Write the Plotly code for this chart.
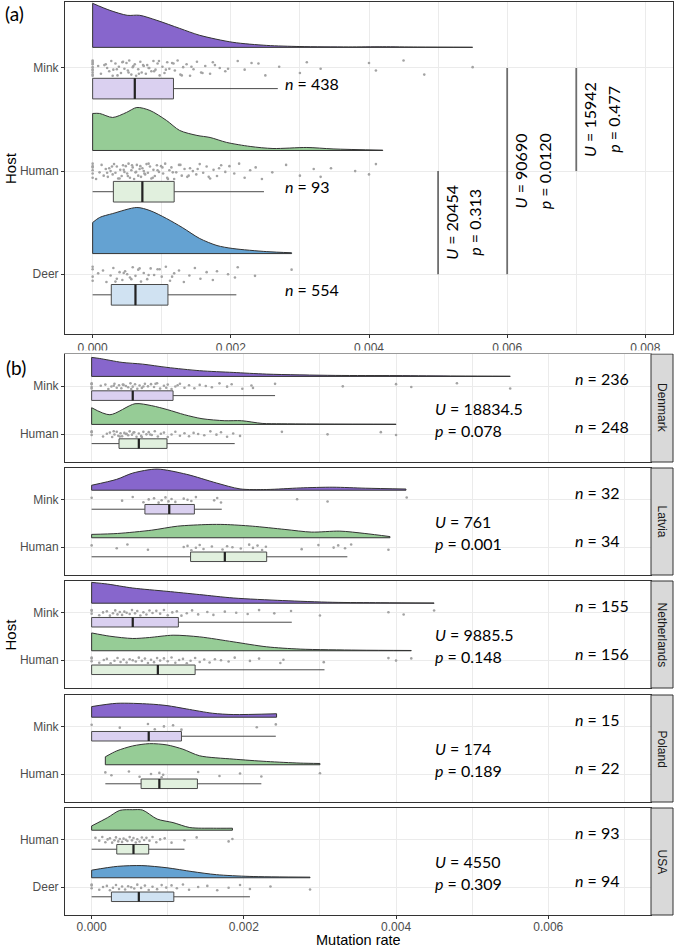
import plotly.graph_objects as go

# ------------------------------------------------------------------ data
# Panel (a): all hosts pooled
A_HOSTS = ["Mink", "Human", "Deer"]
A_N = ["438", "93", "554"]
A_Q1 = [0.0, 0.00030, 0.00027]
A_MED = [0.00061, 0.00072, 0.00062]
A_Q3 = [0.00117, 0.00118, 0.00109]
A_LO = [0.0, 0.0, 0.0]
A_HI = [0.00268, 0.00248, 0.00208]
A_XTICKS = [0.0, 0.002, 0.004, 0.006, 0.008]
A_XTICKTEXT = ["0.000", "0.002", "0.004", "0.006", "0.008"]
A_XMINOR = [0.001, 0.003, 0.005, 0.007]

# density outlines (x, relative height)
a_mink_dx = [0, 0.00025, 0.0005, 0.00068, 0.00093, 0.00126, 0.00155, 0.00203, 0.00252, 0.0030, 0.0037, 0.0042, 0.0047, 0.0055]
a_mink_dh = [0.427, 0.359, 0.311, 0.311, 0.262, 0.184, 0.117, 0.049, 0.019, 0.008, 0.004, 0.006, 0.003, 0.001]
a_human_dx = [0, 0.0001, 0.00029, 0.00049, 0.00064, 0.00083, 0.00107, 0.00126, 0.00151, 0.0017, 0.00194, 0.00228, 0.00261, 0.0031, 0.00348, 0.0042]
a_human_dh = [0.359, 0.359, 0.320, 0.369, 0.417, 0.388, 0.291, 0.194, 0.146, 0.126, 0.078, 0.039, 0.019, 0.029, 0.015, 0.003]
a_deer_dx = [0, 0.0001, 0.00029, 0.00064, 0.00083, 0.00107, 0.0013, 0.00155, 0.0018, 0.00203, 0.00252, 0.00288]
a_deer_dh = [0.301, 0.350, 0.388, 0.447, 0.417, 0.340, 0.252, 0.146, 0.078, 0.049, 0.019, 0.008]

# raw points (approximate)
a_mink_pts = [0, 0, 0, 0, 0, 0, 0, 0, 0, 0,
              0.00008, 0.00012, 0.00017, 0.00021, 0.00024, 0.00027, 0.0003, 0.00033, 0.00036, 0.00038,
              0.00041, 0.00043, 0.00046, 0.00049, 0.00051, 0.00053, 0.00056, 0.00058, 0.00061, 0.00063,
              0.00066, 0.00069, 0.00071, 0.00074, 0.00077, 0.00079, 0.00082, 0.00085, 0.00088, 0.00091,
              0.00094, 0.00097, 0.00101, 0.00104, 0.00108, 0.00111, 0.00115, 0.00119, 0.00123, 0.00127,
              0.00131, 0.00136, 0.00141, 0.00146, 0.00151, 0.00157, 0.00163, 0.0017, 0.00177, 0.00184,
              0.00192, 0.0021, 0.0022, 0.0024, 0.0025, 0.0027, 0.003, 0.0031, 0.0033, 0.004,
              0.0041, 0.0045, 0.0048, 0.0055,
              0.00019, 0.00029, 0.00035, 0.00044, 0.00052, 0.00059, 0.00067, 0.00073, 0.00081, 0.00089,
              0.00096, 0.00106, 0.00117, 0.00129, 0.00143, 0.00159, 0.00174, 0.00196, 0.0023]
a_human_pts = [0, 0, 0, 0, 0, 0,
               0.00005, 0.0001, 0.00013, 0.00016, 0.00019, 0.00022, 0.00024, 0.00026, 0.00029, 0.00031,
               0.00033, 0.00035, 0.00037, 0.0004, 0.00042, 0.00044, 0.00046, 0.00048, 0.0005, 0.00052,
               0.00054, 0.00056, 0.00058, 0.0006, 0.00062, 0.00064, 0.00066, 0.00068, 0.0007, 0.00072,
               0.00074, 0.00076, 0.00078, 0.0008, 0.00083, 0.00085, 0.00088, 0.0009, 0.00093, 0.00096,
               0.00099, 0.00102, 0.00105, 0.00108, 0.00111, 0.00114, 0.00118, 0.00121, 0.00125, 0.00129,
               0.00133, 0.00137, 0.00141, 0.00145, 0.0015, 0.00155, 0.0016, 0.00165, 0.0017, 0.00175,
               0.0018, 0.00186, 0.00192, 0.00198, 0.00205, 0.00212, 0.0022, 0.00228, 0.00236, 0.00245,
               0.0026, 0.0028, 0.003, 0.0032, 0.0033, 0.00345, 0.0038, 0.004, 0.0041,
               0.00021, 0.00028, 0.00039, 0.00045, 0.00051, 0.00057, 0.00063, 0.00069, 0.00075, 0.00081,
               0.00087, 0.00094, 0.00101, 0.00109, 0.00116, 0.00127, 0.00139, 0.00152, 0.00168, 0.00183]
a_deer_pts = [0, 0, 0, 0, 0.00008, 0.00015, 0.0002, 0.00026, 0.0003, 0.00035, 0.00039, 0.00043,
              0.00047, 0.0005, 0.00054, 0.00058, 0.00062, 0.00066, 0.0007, 0.00074, 0.00079, 0.00084,
              0.00089, 0.00094, 0.001, 0.00106, 0.00112, 0.00118, 0.00125, 0.00132, 0.0014, 0.00148,
              0.00156, 0.00165, 0.00174, 0.0018, 0.00196, 0.00206, 0.0021, 0.00235, 0.00288,
              0.00033, 0.00045, 0.00056, 0.00068, 0.00081, 0.00097, 0.00115]

# Mann-Whitney tests in panel (a)
A_TEST_X = [0.005, 0.006, 0.007]
A_TEST_FROM = ["Human", "Mink", "Mink"]
A_TEST_TO = ["Deer", "Deer", "Human"]
A_TEST_U = ["20454", "90690", "15942"]
A_TEST_P = ["0.313", "0.0120", "0.477"]

# Panel (b): by country
COUNTRIES = ["Denmark", "Latvia", "Netherlands", "Poland", "USA"]
B_HOSTS = [["Mink", "Human"], ["Mink", "Human"], ["Mink", "Human"], ["Mink", "Human"], ["Human", "Deer"]]
B_N = [["236", "248"], ["32", "34"], ["155", "156"], ["15", "22"], ["93", "94"]]
B_U = ["18834.5", "761", "9885.5", "174", "4550"]
B_P = ["0.078", "0.001", "0.148", "0.189", "0.309"]
B_Q1 = [[0.0, 0.00036], [0.0007, 0.0013], [0.0, 0.0], [0.0, 0.00065], [0.00033, 0.00026]]
B_MED = [[0.00054, 0.00062], [0.00102, 0.00175], [0.00054, 0.00087], [0.00075, 0.00089], [0.00055, 0.00062]]
B_Q3 = [[0.00107, 0.00099], [0.00135, 0.0023], [0.00114, 0.00136], [0.00118, 0.00139], [0.00075, 0.00108]]
B_LO = [[0.0, 0.0], [0.0, 0.0], [0.0, 0.0], [0.0, 0.00018], [0.0, 0.0]]
B_HI = [[0.00241, 0.00188], [0.00171, 0.00336], [0.00263, 0.00306], [0.00242, 0.00223], [0.00122, 0.00208]]
B_XTICKS = [0.0, 0.002, 0.004, 0.006]
B_XTICKTEXT = ["0.000", "0.002", "0.004", "0.006"]
B_XMINOR = [0.001, 0.003, 0.005, 0.007]

den_mink_dx = [0, 0.0001, 0.0004, 0.00067, 0.00099, 0.00142, 0.00186, 0.0023, 0.0032, 0.0040, 0.0048, 0.0055]
den_mink_dh = [0.396, 0.375, 0.292, 0.256, 0.188, 0.119, 0.083, 0.048, 0.021, 0.017, 0.008, 0.004]
den_human_dx = [0, 0.00024, 0.00057, 0.00079, 0.001, 0.00122, 0.00145, 0.00175, 0.00197, 0.00224, 0.0025, 0.004]
den_human_dh = [0.348, 0.202, 0.431, 0.390, 0.306, 0.202, 0.119, 0.077, 0.077, 0.021, 0.013, 0.004]
lat_mink_dx = [0, 0.00033, 0.00054, 0.00086, 0.00125, 0.00164, 0.00195, 0.0023, 0.00274, 0.00317, 0.0036, 0.00413]
lat_mink_dh = [0.104, 0.229, 0.36, 0.444, 0.333, 0.152, 0.027, 0.015, 0.048, 0.063, 0.042, 0.025]
lat_human_dx = [0, 0.00034, 0.00079, 0.00113, 0.00153, 0.00175, 0.00211, 0.00254, 0.00289, 0.00326, 0.00359, 0.00392]
lat_human_dh = [0.071, 0.090, 0.160, 0.244, 0.279, 0.279, 0.244, 0.175, 0.119, 0.140, 0.090, 0.025]
neth_mink_dx = [0, 0.00021, 0.00054, 0.00099, 0.00142, 0.00186, 0.00251, 0.00317, 0.0038, 0.0045]
neth_mink_dh = [0.438, 0.402, 0.319, 0.25, 0.181, 0.110, 0.056, 0.019, 0.010, 0.004]
neth_human_dx = [0, 0.00024, 0.00054, 0.00076, 0.00107, 0.00142, 0.00186, 0.0023, 0.00274, 0.0035, 0.0042]
neth_human_dh = [0.375, 0.306, 0.258, 0.279, 0.327, 0.292, 0.188, 0.083, 0.035, 0.013, 0.006]
pol_mink_dx = [0, 0.00033, 0.00076, 0.00099, 0.00125, 0.00159, 0.00186, 0.00243]
pol_mink_dh = [0.223, 0.292, 0.277, 0.244, 0.173, 0.083, 0.056, 0.073]
pol_human_dx = [0.00018, 0.00033, 0.00054, 0.00076, 0.00099, 0.0012, 0.00142, 0.00186, 0.0023, 0.00274, 0.003]
pol_human_dh = [0.167, 0.292, 0.396, 0.444, 0.417, 0.327, 0.188, 0.119, 0.069, 0.035, 0.027]
usa_human_dx = [0, 0.00021, 0.00037, 0.00054, 0.00067, 0.00086, 0.00107, 0.00129, 0.0016, 0.00185]
usa_human_dh = [0.090, 0.265, 0.417, 0.431, 0.423, 0.235, 0.160, 0.056, 0.042, 0.042]
usa_deer_dx = [0, 0.00034, 0.00066, 0.00099, 0.00132, 0.00164, 0.00208, 0.00287]
usa_deer_dh = [0.16, 0.24, 0.256, 0.21, 0.13, 0.065, 0.028, 0.013]

den_mink_pts = [0, 0, 0, 0, 0.00012, 0.00018, 0.00022, 0.00026, 0.0003, 0.00033, 0.00036, 0.00039, 0.00042,
                0.00045, 0.00048, 0.00051, 0.00054, 0.00057, 0.0006, 0.00063, 0.00066, 0.0007, 0.00074,
                0.00078, 0.00082, 0.00086, 0.0009, 0.00095, 0.001, 0.00105, 0.0011, 0.00116, 0.00122,
                0.00128, 0.00135, 0.00142, 0.0015, 0.00158, 0.00168, 0.00178, 0.00184, 0.00198, 0.0021,
                0.00212, 0.00241, 0.0033, 0.004, 0.0042, 0.0048, 0.0055,
                0.00029, 0.00041, 0.00052, 0.00068, 0.00084, 0.00098, 0.00113]
den_human_pts = [0, 0, 0, 0.00015, 0.0002, 0.00024, 0.00027, 0.0003, 0.00033, 0.00035, 0.00038, 0.0004,
                 0.00043, 0.00045, 0.00048, 0.0005, 0.00053, 0.00056, 0.00059, 0.00062, 0.00065, 0.00068,
                 0.00072, 0.00075, 0.00079, 0.00083, 0.00087, 0.00091, 0.00095, 0.001, 0.00105, 0.0011,
                 0.00116, 0.00122, 0.00128, 0.00134, 0.0014, 0.00148, 0.00156, 0.00164, 0.0017, 0.00178,
                 0.00186, 0.00195, 0.0025, 0.0031, 0.0038, 0.004,
                 0.00029, 0.00037, 0.00046, 0.00055, 0.00066, 0.00077]
lat_mink_pts = [0, 0.0004, 0.00054, 0.00068, 0.00075, 0.00082, 0.00088, 0.00092, 0.00097, 0.00101, 0.00105,
                0.0011, 0.00121, 0.00126, 0.00131, 0.00137, 0.00161, 0.00165, 0.0017, 0.0027, 0.0031, 0.00414]
lat_human_pts = [0, 0.00033, 0.00047, 0.00074, 0.00121, 0.00126, 0.00131, 0.00137, 0.00142, 0.00147, 0.00158,
                 0.00172, 0.00178, 0.00185, 0.00196, 0.00207, 0.00212, 0.00218, 0.00224, 0.00229, 0.00276,
                 0.00298, 0.00318, 0.00324, 0.00333, 0.00341, 0.0039]
neth_mink_pts = [0, 0, 0, 0.0001, 0.00015, 0.0002, 0.00024, 0.00028, 0.00031, 0.00034, 0.00037, 0.0004,
                 0.00043, 0.00046, 0.0005, 0.00053, 0.00057, 0.0006, 0.00064, 0.00068, 0.00072, 0.00076,
                 0.0008, 0.00085, 0.0009, 0.00095, 0.001, 0.00106, 0.00112, 0.00118, 0.00125, 0.00132,
                 0.0014, 0.00152, 0.0016, 0.00175, 0.0019, 0.00205, 0.0022, 0.0024, 0.00262, 0.003,
                 0.0039, 0.0041, 0.0045]
neth_human_pts = [0, 0, 0, 0.0001, 0.00016, 0.0002, 0.00025, 0.0003, 0.00034, 0.00038, 0.00042, 0.00046,
                  0.0005, 0.00054, 0.00058, 0.00062, 0.00066, 0.0007, 0.00074, 0.00078, 0.00082, 0.00086,
                  0.0009, 0.00095, 0.001, 0.00105, 0.0011, 0.00115, 0.0012, 0.00125, 0.0013, 0.00136,
                  0.00142, 0.00148, 0.00155, 0.00162, 0.0017, 0.0018, 0.00188, 0.00208, 0.0022, 0.00248,
                  0.00252, 0.00305, 0.0039, 0.004, 0.0042]
pol_mink_pts = [0, 0.00037, 0.00074, 0.00083, 0.00095, 0.00107, 0.00118, 0.00217, 0.00242]
pol_human_pts = [0.00018, 0.00026, 0.00049, 0.00063, 0.00078, 0.00089, 0.00092, 0.00094, 0.0014, 0.00168,
                 0.00195, 0.00223, 0.003]
usa_human_pts = [0.00005, 0.0001, 0.00014, 0.00018, 0.00021, 0.00024, 0.00027, 0.0003, 0.00032, 0.00035,
                 0.00037, 0.0004, 0.00042, 0.00045, 0.00047, 0.0005, 0.00053, 0.00055, 0.00058, 0.0006,
                 0.00063, 0.00066, 0.00069, 0.00072, 0.00076, 0.0008, 0.00085, 0.0009, 0.00096, 0.00105,
                 0.00122, 0.00138, 0.0018, 0.00185]
usa_deer_pts = [0, 0, 0, 0.0001, 0.00015, 0.0002, 0.00024, 0.00028, 0.00032, 0.00036, 0.0004, 0.00044,
                0.00048, 0.00052, 0.00056, 0.0006, 0.00065, 0.0007, 0.00075, 0.0008, 0.00086, 0.00092,
                0.00098, 0.00105, 0.00112, 0.0012, 0.00128, 0.0014, 0.00152, 0.00165, 0.0018, 0.00195,
                0.00208, 0.00235, 0.00287]

# fixed jitter pattern (fraction of jitter half-width)
JIT = [0.6, -0.3, 0.9, -0.8, 0.1, 0.45, -0.95, -0.15, 0.75, -0.55, 0.25, -0.7,
       0.35, 0.0, -0.4, 0.85, -0.2, 0.55, -0.9, 0.15, -0.6, 0.7, -0.1]

# ------------------------------------------------------------------ style
W, H = 675, 948
VIOLIN = {"Mink": "#8766cc", "Human": "#96cc96", "Deer": "#64a2d2"}
BOXFILL = {"Mink": "#dad0f0", "Human": "#e1f0de", "Deer": "#d0e2f2"}
OUTLINE = "#333333"
PTCOL = "#a3a3a3"
GRID = "#ebebeb"
TICKFONT = dict(family="Liberation Sans, Arial, sans-serif", size=12, color="#4d4d4d")
ANNFONT = dict(family="Lato, Liberation Sans, sans-serif", size=16, color="#000000")
TITLEFONT = dict(family="Liberation Sans, Arial, sans-serif", size=15, color="#000000")


def px_y(py):
    return 1 - py / H


def px_x(px):
    return px / W


fig = go.Figure()


def add_group(xa, ya, pos, dx, dh, pts, q1, med, q3, lo, hi, host, jw):
    base = pos + 0.2
    common = dict(xaxis=xa, yaxis=ya, hoverinfo="skip", showlegend=False)
    # violin baseline + end edges
    fig.add_trace(go.Scatter(x=[dx[0], dx[0], dx[-1], dx[-1]],
                             y=[base + dh[0], base, base, base + dh[-1]],
                             mode="lines", line=dict(color=OUTLINE, width=1), **common))
    # violin upper outline, filled down to the edges trace
    fig.add_trace(go.Scatter(x=dx, y=[base + h for h in dh], mode="lines",
                             line=dict(color=OUTLINE, width=1, shape="spline", smoothing=0.8),
                             fill="tonexty", fillcolor=VIOLIN[host], **common))
    # jittered points
    ys = [pos + jw * JIT[i % len(JIT)] for i in range(len(pts))]
    fig.add_trace(go.Scatter(x=pts, y=ys, mode="markers",
                             marker=dict(size=2.6, color=PTCOL, line=dict(width=0)), **common))
    # box
    fig.add_trace(go.Box(y=[pos - 0.2], q1=[q1], median=[med], q3=[q3],
                         lowerfence=[lo], upperfence=[hi], orientation="h", width=0.2,
                         fillcolor=BOXFILL[host], line=dict(color="#4a4a4a", width=1),
                         whiskerwidth=0, boxpoints=False, **common))
    fig.add_trace(go.Scatter(x=[med, med], y=[pos - 0.3, pos - 0.1], mode="lines",
                             line=dict(color="#222222", width=2.2), **common))


annotations = []
shapes = []

# ---------------- panel (a)
a_dx = {"Mink": a_mink_dx, "Human": a_human_dx, "Deer": a_deer_dx}
a_dh = {"Mink": a_mink_dh, "Human": a_human_dh, "Deer": a_deer_dh}
a_pts = {"Mink": a_mink_pts, "Human": a_human_pts, "Deer": a_deer_pts}
a_pos = {h: len(A_HOSTS) - i for i, h in enumerate(A_HOSTS)}

for i, h in enumerate(A_HOSTS):
    add_group("x", "y", a_pos[h], a_dx[h], a_dh[h], a_pts[h],
              A_Q1[i], A_MED[i], A_Q3[i], A_LO[i], A_HI[i], h, 0.08)
    annotations.append(dict(x=0.00275, y=a_pos[h] - 0.15, xref="x", yref="y",
                            text=f"<i>n</i> = {A_N[i]}", showarrow=False,
                            xanchor="left", yanchor="middle", font=ANNFONT))

for t, f, to, u, p in zip(A_TEST_X, A_TEST_FROM, A_TEST_TO, A_TEST_U, A_TEST_P):
    y0, y1 = a_pos[f], a_pos[to]
    fig.add_trace(go.Scatter(x=[t, t], y=[y0, y1], mode="lines",
                             line=dict(color="#6e6e6e", width=1.8),
                             xaxis="x", yaxis="y", hoverinfo="skip", showlegend=False))
    ym = (y0 + y1) / 2
    annotations.append(dict(x=t + 0.00019, y=ym, xref="x", yref="y", text=f"<i>U</i> = {u}",
                            textangle=-90, showarrow=False, xanchor="center", yanchor="middle",
                            font=ANNFONT))
    annotations.append(dict(x=t + 0.000535, y=ym, xref="x", yref="y", text=f"<i>p</i> = {p}",
                            textangle=-90, showarrow=False, xanchor="center", yanchor="middle",
                            font=ANNFONT))

# ---------------- panel (b)
b_dx = [[den_mink_dx, den_human_dx], [lat_mink_dx, lat_human_dx], [neth_mink_dx, neth_human_dx],
        [pol_mink_dx, pol_human_dx], [usa_human_dx, usa_deer_dx]]
b_dh = [[den_mink_dh, den_human_dh], [lat_mink_dh, lat_human_dh], [neth_mink_dh, neth_human_dh],
        [pol_mink_dh, pol_human_dh], [usa_human_dh, usa_deer_dh]]
b_pts = [[den_mink_pts, den_human_pts], [lat_mink_pts, lat_human_pts], [neth_mink_pts, neth_human_pts],
         [pol_mink_pts, pol_human_pts], [usa_human_pts, usa_deer_pts]]

facet_px = [(354, 462), (468, 575), (581, 688), (695, 802), (808, 915)]
PB_LEFT, PB_RIGHT, STRIP_RIGHT = 65, 651, 673

layout_axes = {}

AX_COMMON = dict(showgrid=True, gridcolor=GRID, gridwidth=1.1, zeroline=False, automargin=False,
                 showline=True, linecolor=OUTLINE, linewidth=1, mirror=True,
                 tickcolor=OUTLINE, tickfont=TICKFONT)

# panel (a) axes
layout_axes["xaxis"] = dict(domain=[px_x(65), px_x(673)], anchor="y", range=[-0.0004, 0.0084],
                            tickmode="array", tickvals=A_XTICKS, ticktext=A_XTICKTEXT,
                            minor=dict(tickmode="array", tickvals=A_XMINOR, showgrid=True,
                                       gridcolor=GRID, gridwidth=0.6),
                            ticks="outside", ticklen=3, **AX_COMMON)
layout_axes["yaxis"] = dict(domain=[px_y(334), px_y(2)], anchor="x", range=[0.42, 3.64],
                            tickmode="array", tickvals=[a_pos[h] for h in A_HOSTS], ticktext=A_HOSTS,
                            ticks="outside", ticklen=3, **AX_COMMON)

for k, c in enumerate(COUNTRIES):
    idx = k + 2
    xa, ya = f"x{idx}", f"y{idx}"
    top, bot = facet_px[k]
    last = (k == len(COUNTRIES) - 1)
    layout_axes[f"xaxis{idx}"] = dict(domain=[px_x(PB_LEFT), px_x(PB_RIGHT)], anchor=ya,
                                      range=[-0.00035, 0.00735], tickmode="array",
                                      tickvals=B_XTICKS, ticktext=B_XTICKTEXT,
                                      minor=dict(tickmode="array", tickvals=B_XMINOR, showgrid=True,
                                                 gridcolor=GRID, gridwidth=0.6),
                                      ticks="outside" if last else "", ticklen=3,
                                      ticklabelstandoff=-2,
                                      showticklabels=last, **AX_COMMON)
    hosts = B_HOSTS[k]
    pos = {hosts[0]: 2, hosts[1]: 1}
    layout_axes[f"yaxis{idx}"] = dict(domain=[px_y(bot), px_y(top)], anchor=xa, range=[0.417, 2.667],
                                      tickmode="array", tickvals=[2, 1], ticktext=hosts,
                                      ticks="outside", ticklen=3, **AX_COMMON)
    for j, h in enumerate(hosts):
        add_group(xa, ya, pos[h], b_dx[k][j], b_dh[k][j], b_pts[k][j],
                  B_Q1[k][j], B_MED[k][j], B_Q3[k][j], B_LO[k][j], B_HI[k][j], h, 0.065)
        annotations.append(dict(x=0.00633, y=pos[h] + 0.15, xref=xa, yref=ya,
                                text=f"<i>n</i> = {B_N[k][j]}", showarrow=False,
                                xanchor="left", yanchor="middle", font=ANNFONT))
    annotations.append(dict(x=0.00449, y=1.54, xref=xa, yref=ya, text=f"<i>U</i> = {B_U[k]}",
                            showarrow=False, xanchor="left", yanchor="middle", font=ANNFONT))
    annotations.append(dict(x=0.00449, y=1.08, xref=xa, yref=ya, text=f"<i>p</i> = {B_P[k]}",
                            showarrow=False, xanchor="left", yanchor="middle", font=ANNFONT))
    # strip
    shapes.append(dict(type="rect", xref="paper", yref="paper",
                       x0=px_x(PB_RIGHT), x1=px_x(STRIP_RIGHT), y0=px_y(bot), y1=px_y(top),
                       fillcolor="#d9d9d9", line=dict(color=OUTLINE, width=1), layer="above"))
    annotations.append(dict(x=px_x((PB_RIGHT + STRIP_RIGHT) / 2), y=px_y((top + bot) / 2),
                            xref="paper", yref="paper", text=c, textangle=90, showarrow=False,
                            xanchor="center", yanchor="middle",
                            font=dict(family="Liberation Sans, Arial, sans-serif", size=12,
                                      color="#1a1a1a")))

# partially hidden tick labels of panel (a), as in the original figure
shapes.append(dict(type="rect", xref="paper", yref="paper", x0=0, x1=1,
                   y0=px_y(353.5), y1=px_y(350.5), fillcolor="white",
                   line=dict(width=0), layer="above"))

# titles and panel labels
PAPER = dict(xref="paper", yref="paper", showarrow=False, xanchor="center", yanchor="middle")
annotations += [
    dict(x=px_x(10), y=px_y(168), text="Host", textangle=-90, font=TITLEFONT, **PAPER),
    dict(x=px_x(10), y=px_y(634.5), text="Host", textangle=-90, font=TITLEFONT, **PAPER),
    dict(x=px_x(358), y=px_y(949), xref="paper", yref="paper", showarrow=False, xanchor="center",
         yanchor="bottom", height=15, valign="middle", text="Mutation rate",
         font=dict(family="Liberation Sans, Arial, sans-serif", size=14.5, color="#000000")),
    dict(x=px_x(14), y=1, xref="paper", yref="paper", showarrow=False, xanchor="center",
         yanchor="top", text="(a)", font=dict(family="Lato, sans-serif", size=19, color="#000000")),
    dict(x=px_x(16), y=px_y(368), text="(b)", font=dict(family="Lato, sans-serif", size=19,
                                                        color="#000000"), **PAPER),
]

fig.update_layout(width=W, height=H, margin=dict(l=0, r=0, t=0, b=0),
                  paper_bgcolor="white", plot_bgcolor="white", showlegend=False,
                  boxmode="overlay", annotations=annotations, shapes=shapes, **layout_axes)

fig.write_html("out.html", config={"displayModeBar": False},
               post_script="document.body.style.margin='0';document.body.style.overflow='hidden';")
